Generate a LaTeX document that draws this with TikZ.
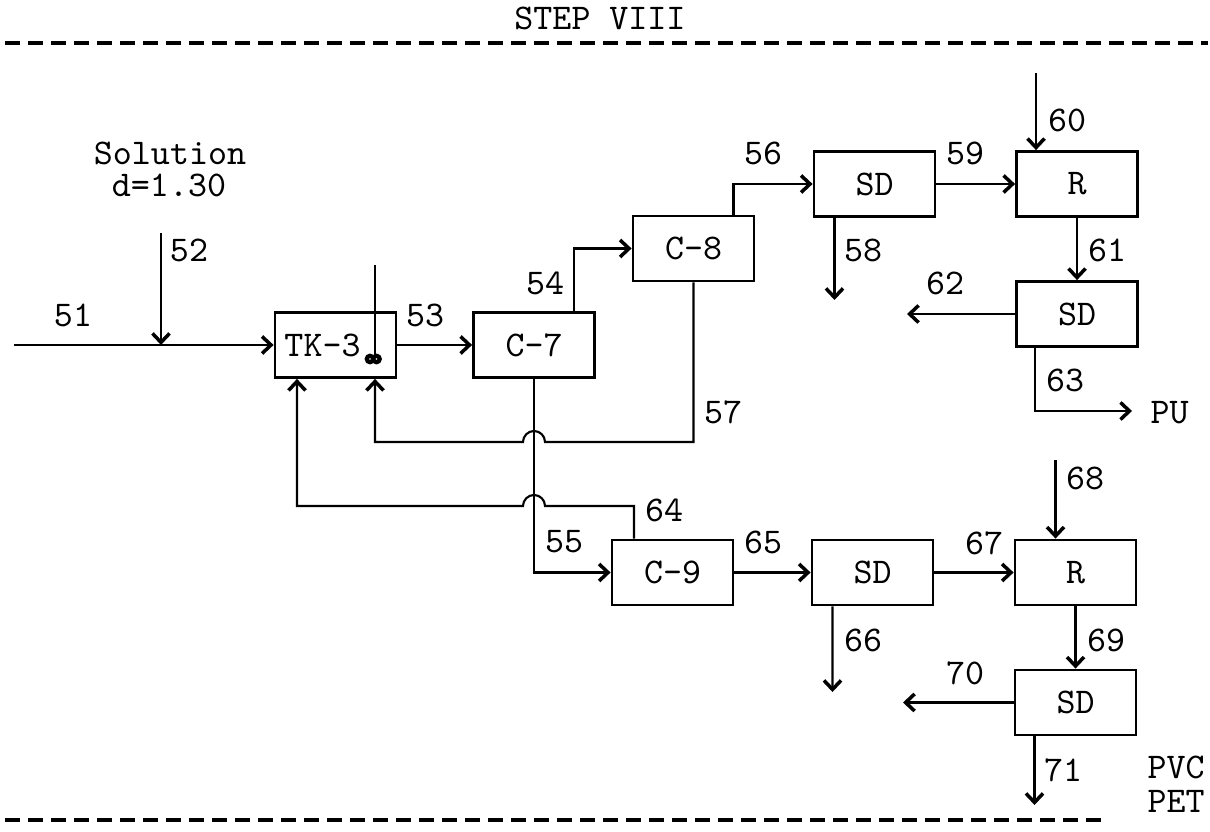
\documentclass[tikz,border=0pt]{standalone}
\usepackage{fontspec}
\usetikzlibrary{arrows.meta}
\begin{document}
\begin{tikzpicture}[x=1cm, y=-1cm,
  unit/.style={draw, line width=0.8pt, minimum width=1.21cm, minimum height=0.65cm, inner sep=0pt, font=\ttfamily\fontsize{10.3}{12}\selectfont},
  tag/.style={inner sep=0pt, font=\ttfamily\fontsize{10.3}{12}\selectfont},
  stream/.style={line width=0.6pt},
  arrow/.style={stream, -{Straight Barb[length=0.9mm, width=1.7mm, line width=1pt]}},
  sectionline/.style={line width=1.2pt, dash pattern=on 0.15cm off 0.08cm}
]
\useasboundingbox (0,0) rectangle (12.10,8.32);
\node[tag] (title) at (6.0,0.18) {STEP VIII};
\draw[sectionline] (0.05,0.43) -- (12.08,0.43);
\draw[sectionline] (0.05,8.20) -- (11.05,8.20);
\node[unit] (tk3) at (3.355,3.45) {TK-3\kern0.26cm};
\node[unit] (c7) at (5.34,3.45) {C-7};
\node[unit] (c8) at (6.935,2.485) {C-8};
\node[unit] (sd1) at (8.745,1.84) {SD};
\node[unit] (r1) at (10.77,1.84) {R};
\node[unit] (sd2) at (10.77,3.14) {SD};
\node[unit] (c9) at (6.725,5.725) {C-9};
\node[unit] (sd3) at (8.725,5.725) {SD};
\node[unit] (r2) at (10.755,5.725) {R};
\node[unit] (sd4) at (10.755,7.025) {SD};
\node[tag] (feed) at (1.70,1.53) {Solution};
\node[tag] (dens) at (1.69,1.85) {d=1.30};
\node[tag] (l51) at (0.73,3.15) {51};
\node[tag] (l52) at (1.89,2.50) {52};
\node[tag] (l53) at (4.25,3.15) {53};
\node[tag] (l54) at (5.45,2.83) {54};
\node[tag] (l55) at (5.64,5.42) {55};
\node[tag] (l56) at (7.63,1.53) {56};
\node[tag] (l57) at (7.23,4.12) {57};
\node[tag] (l58) at (8.63,2.50) {58};
\node[tag] (l59) at (9.65,1.53) {59};
\node[tag] (l60) at (10.67,1.20) {60};
\node[tag] (l61) at (11.07,2.50) {61};
\node[tag] (l62) at (9.45,2.83) {62};
\node[tag] (l63) at (10.65,3.80) {63};
\node[tag, anchor=west] (pu) at (11.50,4.13) {PU};
\node[tag] (l64) at (6.64,5.10) {64};
\node[tag] (l65) at (7.63,5.42) {65};
\node[tag] (l66) at (8.63,6.40) {66};
\node[tag] (l67) at (9.84,5.43) {67};
\node[tag] (l68) at (10.85,4.78) {68};
\node[tag] (l69) at (11.06,6.40) {69};
\node[tag] (l70) at (9.65,6.73) {70};
\node[tag] (l71) at (10.63,7.70) {71};
\node[tag, align=left, font=\ttfamily\fontsize{10.3}{9.6}\selectfont] (product) at (11.76,7.84) {PVC\\PET};
\coordinate (in51) at (0.14,3.45);
\coordinate (in52) at (1.61,2.33);
\coordinate (j52) at (1.61,3.45);
\coordinate (mixtop) at (3.75,2.65);
\coordinate (mixbot) at (3.75,3.56);
\coordinate (x57) at (5.34,4.42);
\coordinate (x64) at (5.34,5.06);
\coordinate (out58) at (8.345,3.00);
\coordinate (in60) at (10.36,0.73);
\coordinate (out62) at (9.07,3.14);
\coordinate (out63) at (11.32,4.11);
\coordinate (in68) at (10.555,4.60);
\coordinate (out66) at (8.325,6.92);
\coordinate (out70) at (9.03,7.025);
\coordinate (out71) at (10.345,8.05);
\draw[arrow] (in51) -- (tk3.west);
\draw[arrow] (in52) -- (j52);
\draw[stream] (mixtop) -- (mixbot);
\draw[line width=1.2pt] (3.70,3.59) circle[radius=0.032cm] (3.765,3.59) circle[radius=0.032cm];
\draw[arrow] (tk3.east) -- (c7.west);
\draw[arrow] ([xshift=0.4cm]c7.north) |- (c8.west);
\draw[arrow] ([xshift=0.4cm]c8.north) |- (sd1.west);
\draw[arrow] (c8.south) |- ([xshift=0.11cm]x57) arc[start angle=0, end angle=180, radius=0.11cm] -| ([xshift=0.395cm]tk3.south);
\draw[arrow] ([xshift=-0.4cm]sd1.south) -- (out58);
\draw[arrow] (sd1.east) -- (r1.west);
\draw[arrow] (in60) -- (in60 |- r1.north);
\draw[arrow] (r1.south) -- (sd2.north);
\draw[arrow] (sd2.west) -- (out62);
\draw[arrow] ([xshift=-0.42cm]sd2.south) |- (out63);
\draw[arrow] (c7.south) |- (c9.west);
\draw[arrow] ([xshift=-0.385cm]c9.north) |- ([xshift=0.11cm]x64) arc[start angle=0, end angle=180, radius=0.11cm] -| ([xshift=-0.385cm]tk3.south);
\draw[arrow] (c9.east) -- (sd3.west);
\draw[arrow] ([xshift=-0.4cm]sd3.south) -- (out66);
\draw[arrow] (sd3.east) -- (r2.west);
\draw[arrow] (in68) -- (in68 |- r2.north);
\draw[arrow] (r2.south) -- (sd4.north);
\draw[arrow] (sd4.west) -- (out70);
\draw[arrow] ([xshift=-0.41cm]sd4.south) -- (out71);
\end{tikzpicture}
\end{document}
